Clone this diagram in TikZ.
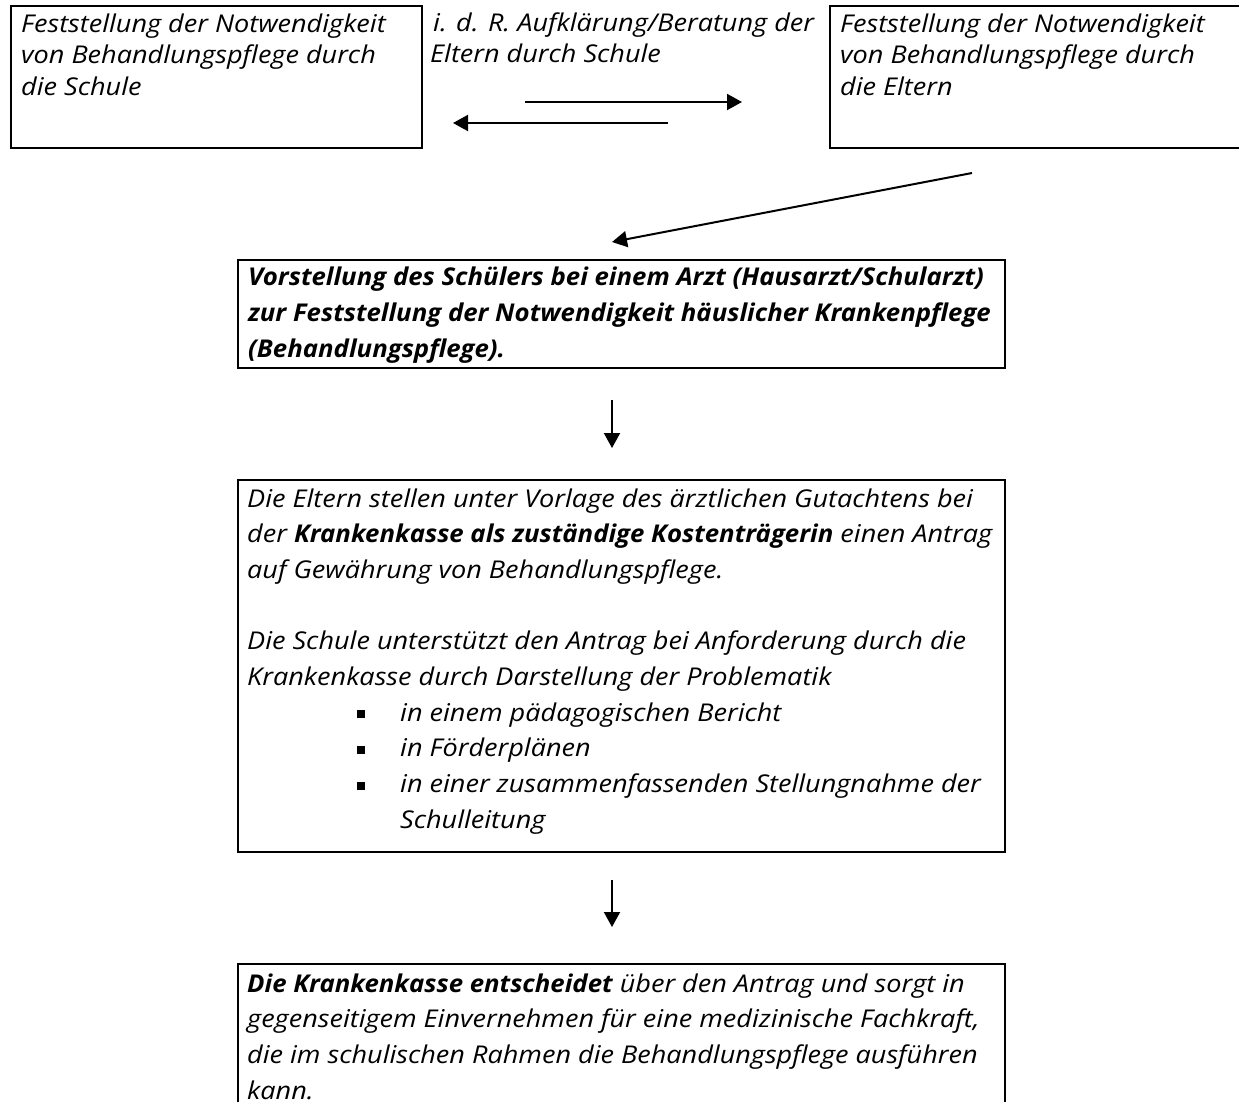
\documentclass[tikz,border=0pt]{standalone}
\usepackage{fontspec}
\setmainfont{Open Sans}[ItalicFeatures={FakeStretch=1.105},BoldItalicFeatures={FakeStretch=1.052}]
\usetikzlibrary{arrows.meta}
\newcommand{\bul}{\rule[3pt]{8pt}{8pt}}
\begin{document}
\begin{tikzpicture}[x=1pt,y=-1pt,
  box/.style={draw, line width=2pt, inner sep=0pt, anchor=north west},
  txt/.style={anchor=base west, inner sep=0pt},
  topfont/.style={font=\itshape\fontsize{24.5}{31.5}\selectfont},
  lowfont/.style={font=\itshape\fontsize{24.5}{35.7}\selectfont},
  arr/.style={line width=2pt, -{Triangle[length=15pt,width=16pt]}}]
\useasboundingbox (0,0) rectangle (1239,1101);
\clip (0,0) rectangle (1239,1101);
% boxes
\node[box, minimum width=411pt, minimum height=142pt] (boxA) at (10,5) {};
\node[box, minimum width=430pt, minimum height=142pt] (boxC) at (829,5) {};
\node[box, minimum width=767pt, minimum height=108pt] (boxB) at (237,259) {};
\node[box, minimum width=767pt, minimum height=372pt] (boxD) at (237,479) {};
\node[box, minimum width=767pt, minimum height=200pt] (boxE) at (237,963) {};
% texts
\node[txt, topfont] (tA) at (21,32) {\parbox[t]{400pt}{\raggedright
Feststellung der Notwendigkeit\\von Behandlungspflege durch\\die Schule}};
\node[txt, topfont] (tM) at (430,31) {\parbox[t]{400pt}{\raggedright
\hspace*{3pt}i. d. R. Aufklärung/Beratung der\\Eltern durch Schule}};
\node[txt, topfont] (tC) at (840,32) {\parbox[t]{400pt}{\raggedright
Feststellung der Notwendigkeit\\von Behandlungspflege durch\\die Eltern}};
\node[txt, font=\bfseries\itshape\fontsize{24.5}{36}\selectfont] (tB) at (248,285) {\parbox[t]{760pt}{\raggedright
Vorstellung des Schülers bei einem Arzt (Hausarzt/Schularzt)\\
zur Feststellung der Notwendigkeit häuslicher Krankenpflege\\
(Behandlungspflege).}};
\node[txt, lowfont] (tD) at (247,507) {\parbox[t]{760pt}{\raggedright
Die Eltern stellen unter Vorlage des ärztlichen Gutachtens bei\\
der \textbf{Krankenkasse als zuständige Kostenträgerin} einen Antrag\\
auf Gewährung von Behandlungspflege.\\
\mbox{}\\
Die Schule unterstützt den Antrag bei Anforderung durch die\\
Krankenkasse durch Darstellung der Problematik\\
\hspace*{110pt}\makebox[43pt][l]{\bul}in einem pädagogischen Bericht\\
\hspace*{110pt}\makebox[43pt][l]{\bul}in Förderplänen\\
\hspace*{110pt}\makebox[43pt][l]{\bul}in einer zusammenfassenden Stellungnahme der\\
\hspace*{153pt}Schulleitung}};
\node[txt, lowfont] (tE) at (247,992) {\parbox[t]{760pt}{\raggedright
\textbf{Die Krankenkasse entscheidet} über den Antrag und sorgt in\\
gegenseitigem Einvernehmen für eine medizinische Fachkraft,\\
die im schulischen Rahmen die Behandlungspflege ausführen\\
kann.}};
% connector ends
\coordinate (r1) at (525,102); \coordinate (r2) at (742,102);
\coordinate (l1) at (668,123); \coordinate (l2) at (453,123);
\coordinate (d1) at (972,173); \coordinate (d2) at (612,242);
\coordinate (a1) at (612,400); \coordinate (a2) at (612,448);
\coordinate (b1) at (612,880); \coordinate (b2) at (612,927);
\draw[arr] (r1) -- (r2);
\draw[arr] (l1) -- (l2);
\draw[arr] (d1) -- (d2);
\draw[arr] (a1) -- (a2);
\draw[arr] (b1) -- (b2);
\end{tikzpicture}
\end{document}
